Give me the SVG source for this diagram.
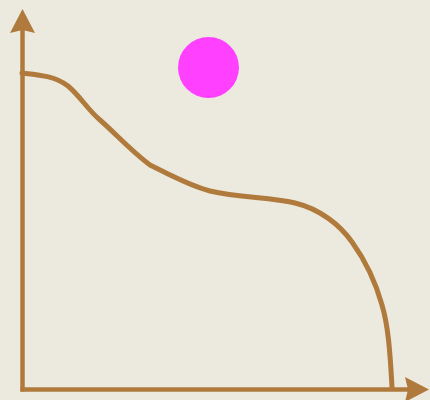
<svg xmlns="http://www.w3.org/2000/svg" width="430" height="400" viewBox="0 0 430 400">
<style>
.ax{stroke:#B07A3C;stroke-width:4.5;fill:none}
.head{fill:#B07A3C}
.curve{stroke:#B07A3C;stroke-width:5;fill:none;stroke-linecap:round;stroke-linejoin:round}
</style>
<rect width="430" height="400" fill="#ECEADF"/>
<g id="connectors">
<line class="ax" x1="22.5" y1="28" x2="22.5" y2="391.5"/>
<line class="ax" x1="20.5" y1="389.5" x2="410" y2="389.5"/>
<path class="head" d="M22.5,9 L35,33 L22.5,30 L10,33 Z"/>
<path class="head" d="M429,389.5 L405,377 L408,389.5 L405,402 Z"/>
<path class="curve" d="M22,73 C40,75 55,76 68,86 C80,96 88,110 100,120 C115,133 130,150 150,165 C170,175 190,186 210,191 C240,198 270,197 295,203 C320,209 340,225 352,242 C365,260 375,280 382,305 C388,325 390,350 392,387"/>
</g>
<g id="dot">
<circle cx="208.5" cy="67.5" r="30.5" fill="#FF40FF"/>
</g>
</svg>
